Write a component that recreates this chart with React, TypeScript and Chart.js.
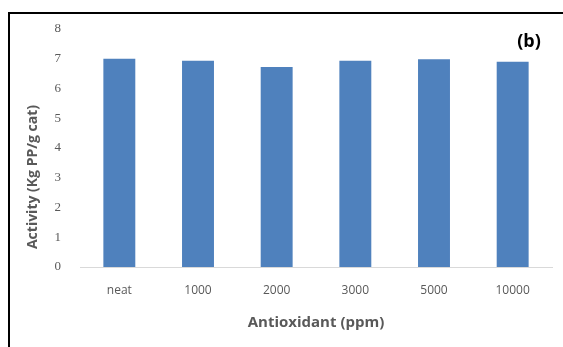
import React, { useEffect, useRef } from "react";
import { Chart, registerables } from "chart.js";

Chart.register(...registerables);

const categories = ["neat", "1000", "2000", "3000", "5000", "10000"];
const activity = [7.0, 6.93, 6.72, 6.93, 6.98, 6.9];
const yTitle = "Activity (Kg PP/g cat)";
const xTitle = "Antioxidant (ppm)";
const panelLabel = "(b)";

const W = 563;
const H = 347;

export default function App() {
  const ref = useRef<HTMLCanvasElement | null>(null);

  useEffect(() => {
    if (!ref.current) return;
    const overlay = {
      id: "overlayText",
      afterDraw(chart: any) {
        const ctx = chart.ctx;
        ctx.save();
        ctx.fillStyle = "#000000";
        ctx.font = "bold 18px 'Open Sans'";
        ctx.textAlign = "center";
        ctx.textBaseline = "middle";
        ctx.fillText(panelLabel, 529, 42);
        ctx.translate(33, 177);
        ctx.rotate(-Math.PI / 2);
        ctx.fillStyle = "#595959";
        ctx.font = "bold 14px 'Open Sans'";
        ctx.fillText(yTitle, 0, 0);
        ctx.restore();
      },
    };
    const chart = new Chart(ref.current, {
      type: "bar",
      data: {
        labels: categories,
        datasets: [
          {
            data: activity,
            backgroundColor: "#4F81BD",
            borderWidth: 0,
            categoryPercentage: 1,
            barPercentage: 0.406,
          },
        ],
      },
      options: {
        responsive: false,
        animation: false,
        layout: { padding: { left: 0, right: 11, top: 29, bottom: 0 } },
        plugins: {
          legend: { display: false },
          tooltip: { enabled: false },
        },
        scales: {
          x: {
            grid: { display: false, drawTicks: false },
            border: { display: true, color: "#d9d9d9", width: 1 },
            ticks: {
              color: "#595959",
              font: { family: "'Open Sans'", size: 12 },
              padding: 16,
              maxRotation: 0,
            },
            title: {
              display: true,
              text: xTitle,
              color: "#595959",
              font: { family: "'Open Sans'", size: 15, weight: "bold" },
              padding: { top: 0, bottom: 15 },
            },
            afterFit: (s: any) => {
              s.height = 80;
            },
          },
          y: {
            min: 0,
            max: 8,
            grid: { display: false, drawTicks: false },
            border: { display: false },
            ticks: {
              stepSize: 1,
              color: "#595959",
              font: { family: "'Liberation Serif'", size: 13 },
              padding: 19,
            },
            afterFit: (s: any) => {
              s.width = 80;
            },
          },
        },
      },
      plugins: [overlay],
    });
    return () => chart.destroy();
  }, []);

  return (
    <div
      style={{
        position: "fixed",
        left: 0,
        top: 0,
        width: W,
        height: H,
        overflow: "hidden",
        background: "#ffffff",
      }}
    >
      <div
        style={{
          position: "absolute",
          left: 8,
          top: 12,
          width: 700,
          height: 500,
          borderLeft: "2px solid #000",
          borderTop: "2px solid #000",
        }}
      />
      <canvas
        ref={ref}
        width={W}
        height={H}
        style={{ position: "absolute", left: 0, top: 0 }}
      />
    </div>
  );
}
